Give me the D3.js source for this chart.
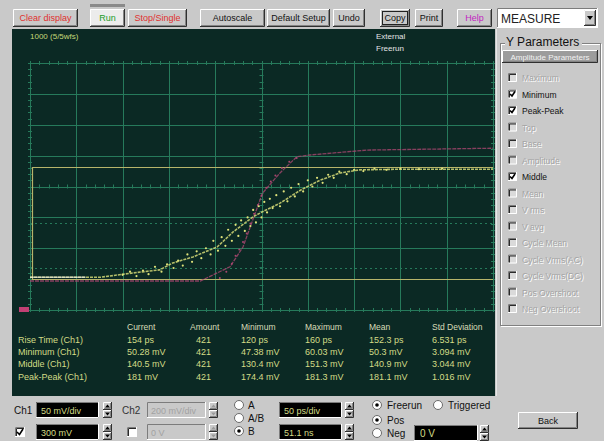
<!DOCTYPE html>
<html>
<head>
<meta charset="utf-8">
<script src="https://cdn.jsdelivr.net/npm/d3@7"></script>
<style>
  body { margin: 0; background: #c9c9c9; }
  svg { display: block; font-family: "Liberation Sans", Arial, sans-serif; }
</style>
</head>
<body>
<div id="scope"></div>
<script>
/*--------------------------------------*
 *---------------- Data ----------------*
 *--------------------------------------*/

const toolbarLabels = ['Clear display', 'Run', 'Stop/Single', 'Autoscale', 'Default Setup', 'Undo', 'Copy', 'Print', 'Help'];

const ampParams = ['Maximum', 'Minimum', 'Peak-Peak', 'Top', 'Base', 'Amplitude', 'Middle', 'Mean',
                   'V rms', 'V avg', 'Cycle Mean', 'Cycle Vrms(AC)', 'Cycle Vrms(DC)', 'Pos Overshoot', 'Neg Overshoot'];
const checkedParams = ['Minimum', 'Peak-Peak', 'Middle'];

const measColumns = ['Current', 'Amount', 'Minimum', 'Maximum', 'Mean', 'Std Deviation'];
const measRows = ['Rise Time (Ch1)', 'Minimum (Ch1)', 'Middle (Ch1)', 'Peak-Peak (Ch1)'];
const measCurrent = ['154 ps', '50.28 mV', '140.5 mV', '181 mV'];
const measAmount = ['421', '421', '421', '421'];
const measMinimum = ['120 ps', '47.38 mV', '130.4 mV', '174.4 mV'];
const measMaximum = ['160 ps', '60.03 mV', '151.3 mV', '181.3 mV'];
const measMean = ['152.3 ps', '50.3 mV', '140.9 mV', '181.1 mV'];
const measStd = ['6.531 ps', '3.094 mV', '3.044 mV', '1.016 mV'];

// Screen scales: 50 ps/div x 10, 50 mV/div x 8
const timeTicks = d3.range(0, 501, 50);     // ps from left edge
const voltTicks = d3.range(0, 401, 50);     // mV

// Measurement markers (mV)
const baseLevel = 50.28;
const topLevel = 231.3;
const thresholdLevels = [68.4, 140.5];

// Ch1 averaged trace (ps, mV)
const ch1Time = [0, 76, 111, 140, 154, 176, 202, 219, 241, 251, 270, 292, 313, 335, 356, 400, 500];
const ch1Volt = [53, 53, 60, 65, 76, 86, 102, 126, 151, 159, 173, 194, 210, 222, 227, 228, 228];

// Ch1 scattered samples (ps, mV)
const ch1DotTime = [100, 108, 115, 122, 128, 135, 142, 148, 155, 160, 165, 170, 175, 180, 185, 190, 195, 198,
                    203, 207, 211, 214, 218, 222, 225, 228, 232, 235, 238, 241, 244, 247, 250, 253, 256, 259,
                    262, 266, 270, 274, 278, 282, 286, 290, 295, 300, 305, 310, 316, 322, 328, 334, 342, 350,
                    360, 372, 385, 400, 420, 445];
const ch1DotVolt = [57, 62, 55, 64, 58, 70, 62, 74, 68, 80, 72, 90, 78, 95, 84, 100, 90, 112,
                    96, 118, 104, 130, 112, 138, 120, 145, 128, 150, 136, 162, 142, 168, 150, 175, 158, 180,
                    165, 186, 168, 192, 176, 198, 184, 204, 192, 210, 200, 214, 206, 219, 214, 224, 220, 227,
                    225, 229, 227, 229, 228, 229];

// Reference (pink) trace (ps, mV)
const refTime = [0, 184, 216, 230, 251, 270, 288, 302, 364, 500];
const refVolt = [47, 47, 70, 102, 189, 222, 248, 251, 259, 262];
const refDotTime = [205, 212, 218, 222, 226, 230, 234, 238, 242, 246, 250, 255, 260, 265, 272, 280, 288];
const refDotVolt = [52, 62, 75, 88, 98, 110, 124, 140, 156, 170, 185, 198, 208, 218, 230, 240, 246];

/*--------------------------------------*
 *--------------- Setup ----------------*
 *--------------------------------------*/

const W = 604, H = 441;
const svg = d3.select('#scope').append('svg').attr('width', W).attr('height', H);
svg.append('rect').attr('width', W).attr('height', H).attr('fill', '#c9c9c9');

const xScale = d3.scaleLinear().domain([0, 500]).range([30, 493]);
const yScale = d3.scaleLinear().domain([0, 400]).range([310, 63]);

const GRID = '#267a5b';
const TRACE = '#dfe27a';
const PINK = '#a8466f';
const LCD = '#d3dc86';

/*--------------------------------------*
 *------------- Helpers ----------------*
 *--------------------------------------*/

function bevel(g, x, y, w, h, fill) {
    g.append('rect').attr('x', x).attr('y', y).attr('width', w).attr('height', h).attr('fill', fill || '#c9c9c9');
    g.append('path').attr('d', `M${x + 0.5},${y + h - 1}V${y + 0.5}H${x + w - 1}`)
        .attr('stroke', '#fff').attr('fill', 'none');
    g.append('path').attr('d', `M${x},${y + h - 0.5}H${x + w - 0.5}V${y}`)
        .attr('stroke', '#303030').attr('fill', 'none');
    g.append('path').attr('d', `M${x + 1},${y + h - 1.5}H${x + w - 1.5}V${y + 1}`)
        .attr('stroke', '#848484').attr('fill', 'none');
}

function sunken(g, x, y, w, h, fill) {
    g.append('rect').attr('x', x).attr('y', y).attr('width', w).attr('height', h).attr('fill', fill);
    g.append('path').attr('d', `M${x + 0.5},${y + h}V${y + 0.5}H${x + w}`)
        .attr('stroke', '#7c7c7c').attr('fill', 'none');
    g.append('path').attr('d', `M${x},${y + h - 0.5}H${x + w - 0.5}V${y}`)
        .attr('stroke', '#fff').attr('fill', 'none');
}

function spinner(g, x, y, h, dim) {
    const c = dim ? '#9a9a9a' : '#000';
    bevel(g, x, y, 9, h / 2);
    bevel(g, x, y + h / 2, 9, h / 2);
    g.append('path').attr('d', `M${x + 2},${y + h / 4 + 1.5}L${x + 4.5},${y + h / 4 - 1.5}L${x + 7},${y + h / 4 + 1.5}Z`).attr('fill', c);
    g.append('path').attr('d', `M${x + 2},${y + 3 * h / 4 - 1.5}L${x + 4.5},${y + 3 * h / 4 + 1.5}L${x + 7},${y + 3 * h / 4 - 1.5}Z`).attr('fill', c);
}

function radio(g, cx, cy, on) {
    g.append('circle').attr('cx', cx).attr('cy', cy).attr('r', 4.5).attr('fill', '#fff')
        .attr('stroke', '#6a6a6a');
    if (on) g.append('circle').attr('cx', cx).attr('cy', cy).attr('r', 1.8).attr('fill', '#000');
}

function checkbox(g, x, y, on, size, dim) {
    const s = size || 10;
    sunken(g, x, y, s, s, dim ? '#dadada' : '#fff');
    // dark inner edge on top/left
    g.append('path').attr('d', `M${x + 1.5},${y + s - 1}V${y + 1.5}H${x + s - 1}`)
        .attr('stroke', '#2a2a2a').attr('fill', 'none');
    if (on) {
        g.append('path').attr('d', `M${x + 2},${y + s / 2}L${x + s / 2 - 0.5},${y + s - 2.5}L${x + s - 2},${y + 2}`)
            .attr('stroke', '#000').attr('stroke-width', 1.6).attr('fill', 'none');
    }
}

function label(g, x, y, txt, size, color, anchor) {
    return g.append('text').attr('x', x).attr('y', y).attr('font-size', size)
        .attr('fill', color || '#000').attr('text-anchor', anchor || 'start').text(txt);
}

/*--------------------------------------*
 *------------- Toolbar ----------------*
 *--------------------------------------*/

function drawToolbar() {
    const g = svg.append('g');
    const boxes = [[13, 65], [90, 35], [128, 59], [200, 65], [267, 63], [333, 32], [380, 30], [415, 28], [457, 35]];
    const colors = { 'Clear display': '#e0302e', 'Run': '#1c9c28', 'Stop/Single': '#e0302e', 'Help': '#c21ec2' };

    toolbarLabels.forEach((name, i) => {
        const [x, w] = boxes[i];
        if (name === 'Run') {
            g.append('rect').attr('x', x).attr('y', 4).attr('width', w).attr('height', 3).attr('fill', '#8a8a8a');
            bevel(g, x, 9, w, 18, '#ececec');
        } else {
            bevel(g, x, 9, w, 18);
        }
        if (name === 'Copy') {
            g.append('rect').attr('x', x + 2.5).attr('y', 11.5).attr('width', w - 5).attr('height', 13)
                .attr('fill', 'none').attr('stroke', '#222');
        }
        label(g, x + w / 2, 21, name, 9, colors[name] || '#111', 'middle');
    });

    // MEASURE drop-down
    sunken(g, 497, 8, 101, 20, '#fff');
    label(g, 501, 23, 'MEASURE', 12, '#222');
    bevel(g, 584, 10, 12, 16);
    g.append('path').attr('d', 'M587,16L593,16L590,20Z').attr('fill', '#000');
}

/*--------------------------------------*
 *-------------- Screen ----------------*
 *--------------------------------------*/

function drawScreen() {
    svg.append('rect').attr('x', 12).attr('y', 29).attr('width', 483).attr('height', 367).attr('fill', '#0b2924');
    svg.append('line').attr('x1', 496.5).attr('x2', 496.5).attr('y1', 29).attr('y2', 396)
        .attr('stroke', '#e6e6e6');

    label(svg, 30, 39, '1000 (5/5wfs)', 8, '#c6d878');
    label(svg, 376, 39, 'External', 8, '#e4e4e4');
    label(svg, 376, 51, 'Freerun', 8, '#e4e4e4');
}

function drawGraticule() {
    const g = svg.append('g');

    g.selectAll('.vgrid').data(timeTicks).join('line')
        .attr('x1', d => Math.round(xScale(d)) + 0.5).attr('x2', d => Math.round(xScale(d)) + 0.5)
        .attr('y1', yScale(400)).attr('y2', yScale(0))
        .attr('stroke', GRID).attr('stroke-width', 1);

    g.selectAll('.hgrid').data(voltTicks).join('line')
        .attr('y1', d => Math.round(yScale(d)) + 0.5).attr('y2', d => Math.round(yScale(d)) + 0.5)
        .attr('x1', xScale(0)).attr('x2', xScale(500))
        .attr('stroke', GRID).attr('stroke-width', 1);

    // Minor ticks on the borders and centre axes
    const minorT = d3.range(0, 501, 10);
    const minorV = d3.range(0, 401, 10);
    [0, 200, 400].forEach(v => {
        g.selectAll(null).data(minorT).join('line')
            .attr('x1', d => Math.round(xScale(d)) + 0.5).attr('x2', d => Math.round(xScale(d)) + 0.5)
            .attr('y1', yScale(v) - 2).attr('y2', yScale(v) + 2)
            .attr('stroke', GRID);
    });
    [0, 250, 500].forEach(t => {
        g.selectAll(null).data(minorV).join('line')
            .attr('y1', d => Math.round(yScale(d)) + 0.5).attr('y2', d => Math.round(yScale(d)) + 0.5)
            .attr('x1', xScale(t) - 2).attr('x2', xScale(t) + 2)
            .attr('stroke', GRID);
    });

    // Threshold markers (dashed)
    g.selectAll('.thr').data(thresholdLevels).join('line')
        .attr('y1', d => Math.round(yScale(d)) + 0.5).attr('y2', d => Math.round(yScale(d)) + 0.5)
        .attr('x1', xScale(0)).attr('x2', xScale(500))
        .attr('stroke', GRID).attr('stroke-dasharray', '2,3');

    // Top / base markers
    const yTop = Math.round(yScale(topLevel)) + 0.5, yBase = Math.round(yScale(baseLevel)) + 0.5;
    g.selectAll('.lvl').data([yTop, yBase]).join('line')
        .attr('x1', xScale(2)).attr('x2', xScale(500)).attr('y1', d => d).attr('y2', d => d)
        .attr('stroke', '#b7b46a').attr('stroke-width', 1.2);
    g.append('line').attr('x1', Math.round(xScale(2)) + 0.5).attr('x2', Math.round(xScale(2)) + 0.5)
        .attr('y1', yTop).attr('y2', yBase).attr('stroke', '#b7b46a').attr('stroke-width', 1.2);

    // Ground reference marker
    g.append('rect').attr('x', 19).attr('y', yScale(0) - 3).attr('width', 10).attr('height', 5)
        .attr('fill', '#c24074');
}

function drawTraces() {
    const g = svg.append('g');
    const line = d3.line().x(d => xScale(d[0])).y(d => yScale(d[1]));

    const ref = refTime.map((t, i) => [t, refVolt[i]]);
    g.append('path').attr('d', line(ref)).attr('fill', 'none')
        .attr('stroke', PINK).attr('stroke-width', 1.3).attr('opacity', 0.8)
        .attr('stroke-dasharray', '4,1');
    g.selectAll('.refdot').data(refDotTime.map((t, i) => [t, refDotVolt[i]])).join('circle')
        .attr('cx', d => xScale(d[0])).attr('cy', d => yScale(d[1])).attr('r', 1)
        .attr('fill', PINK);

    const ch1 = ch1Time.map((t, i) => [t, ch1Volt[i]]);
    g.append('path').attr('d', line(ch1)).attr('fill', 'none')
        .attr('stroke', TRACE).attr('stroke-width', 1.6).attr('opacity', 0.8)
        .attr('stroke-dasharray', '3,1');
    g.selectAll('.ch1dot').data(ch1DotTime.map((t, i) => [t, ch1DotVolt[i]])).join('circle')
        .attr('cx', d => xScale(d[0])).attr('cy', d => yScale(d[1])).attr('r', 1.1)
        .attr('fill', TRACE);
    // brighter start of trace
    g.append('path').attr('d', line([[0, 53], [60, 53]])).attr('stroke', '#eeeee0')
        .attr('stroke-width', 1.6).attr('opacity', 0.7);
}

/*--------------------------------------*
 *--------- Measurement table ----------*
 *--------------------------------------*/

function drawTable() {
    const g = svg.append('g').attr('font-size', 9);
    const colX = [127, 190, 241, 305, 369, 432];
    const rowY = [343, 355, 367, 380];
    const cols = [measCurrent, measAmount, measMinimum, measMaximum, measMean, measStd];

    measColumns.forEach((c, i) => label(g, colX[i], 330, c, 8.5, '#d8dcb8'));
    measRows.forEach((r, j) => {
        label(g, 18, rowY[j], r, 9, LCD);
        cols.forEach((col, i) => label(g, colX[i] + (i === 1 ? 6 : 0), rowY[j], col[j], 9, LCD));
    });
}

/*--------------------------------------*
 *----------- Parameter panel ----------*
 *--------------------------------------*/

function drawParamPanel() {
    const g = svg.append('g');
    // etched group box
    const bx = 500.5, by = 43.5, bw = 100, bh = 282;
    g.append('rect').attr('x', bx + 1).attr('y', by + 1).attr('width', bw).attr('height', bh)
        .attr('fill', 'none').attr('stroke', '#fff');
    g.append('rect').attr('x', bx).attr('y', by).attr('width', bw).attr('height', bh)
        .attr('fill', 'none').attr('stroke', '#808080');
    g.append('rect').attr('x', 505).attr('y', 36).attr('width', 77).attr('height', 12).attr('fill', '#c9c9c9');
    label(g, 506, 46, 'Y Parameters', 12, '#111');

    bevel(g, 502, 50, 96, 13, '#9c9c9c');
    label(g, 550, 60, 'Amplitude Parameters', 8, '#f2f2f2', 'middle');

    ampParams.forEach((p, i) => {
        const y = 78 + i * 16.5;
        const on = checkedParams.includes(p);
        checkbox(g, 508, y - 5, on, 9, !on);
        if (!on) label(g, 523, y + 4, p, 8.5, '#fff');
        label(g, 522, y + 3, p, 8.5, on ? '#111' : '#a4a4a4');
    });
}

/*--------------------------------------*
 *------------ Bottom controls ---------*
 *--------------------------------------*/

function drawControls() {
    const g = svg.append('g');
    const r1 = 402, r2 = 424, h = 16;

    // Channel 1
    label(g, 14, 414, 'Ch1', 10, '#111');
    sunken(g, 36, r1, 63, h, '#000');
    label(g, 41, r1 + 12, '50 mV/div', 9, LCD);
    spinner(g, 103, r1, h);
    checkbox(g, 15, r2 + 3, true, 10);
    sunken(g, 36, r2, 63, h, '#000');
    label(g, 41, r2 + 12, '300 mV', 9, LCD);
    spinner(g, 103, r2, h);

    // Channel 2 (disabled)
    label(g, 122, 414, 'Ch2', 10, '#333');
    sunken(g, 147, r1, 59, h, '#c9c9c9');
    label(g, 151, r1 + 12, '200 mV/div', 9, '#a2a2a2');
    spinner(g, 209, r1, h, true);
    checkbox(g, 127, r2 + 3, false, 10);
    sunken(g, 147, r2, 59, h, '#c9c9c9');
    label(g, 151, r2 + 12, '0 V', 9, '#a2a2a2');
    spinner(g, 209, r2, h, true);

    // Source radios
    [['A', false], ['A/B', false], ['B', true]].forEach(([t, on], i) => {
        radio(g, 239, 405 + i * 13, on);
        label(g, 248, 409 + i * 13, t, 10, '#111');
    });

    // Timebase
    sunken(g, 279, r1, 63, h, '#000');
    label(g, 284, r1 + 12, '50 ps/div', 9, LCD);
    spinner(g, 345, r1, h);
    sunken(g, 279, r2, 63, h, '#000');
    label(g, 284, r2 + 12, '51.1 ns', 9, LCD);
    spinner(g, 345, r2, h);

    // Trigger
    radio(g, 377, 405, true);
    label(g, 387, 409, 'Freerun', 10, '#111');
    radio(g, 438, 405, false);
    label(g, 448, 409, 'Triggered', 10, '#111');
    radio(g, 377, 420, true);
    label(g, 387, 424, 'Pos', 10, '#111');
    radio(g, 377, 433, false);
    label(g, 387, 437, 'Neg', 10, '#111');
    sunken(g, 414, r2 + 1, 64, h, '#000');
    label(g, 420, r2 + 13, '0 V', 10, LCD);
    spinner(g, 480, r2 + 1, h);

    // Back button
    bevel(g, 518, 412, 60, 17);
    label(g, 548, 424, 'Back', 9, '#111', 'middle');
}

drawToolbar();
drawScreen();
drawGraticule();
drawTraces();
drawTable();
drawParamPanel();
drawControls();
</script>
</body>
</html>
